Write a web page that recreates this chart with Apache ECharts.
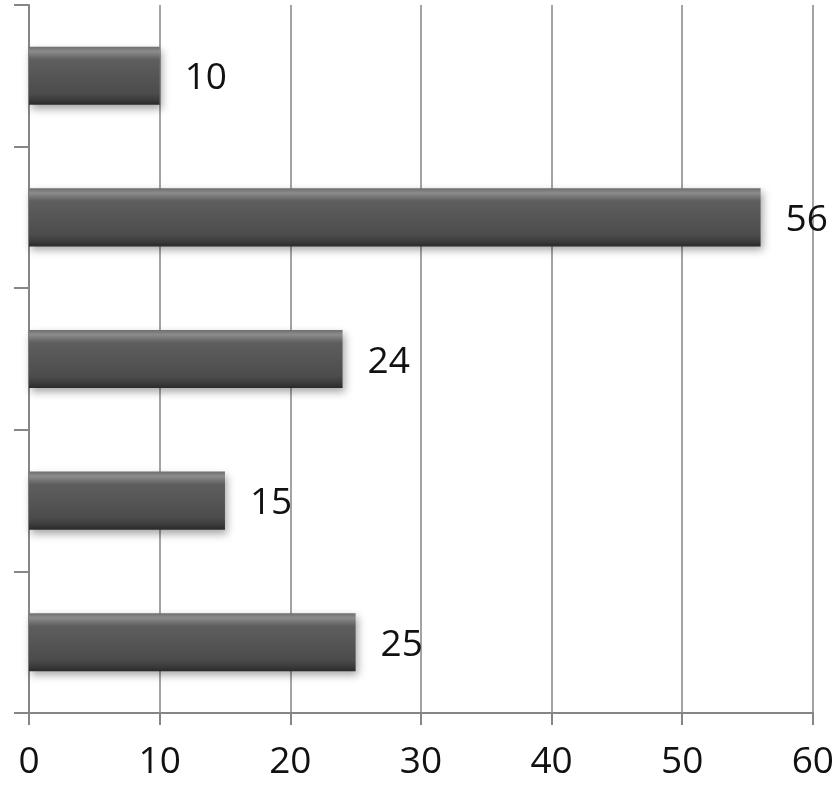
<!DOCTYPE html>
<html><head><meta charset="utf-8">
<script src="https://cdn.jsdelivr.net/npm/echarts@6/dist/echarts.min.js"></script>
<style>html,body{margin:0;padding:0;background:#fff}#c{width:837px;height:801px}</style>
</head><body><div id="c"></div>
<script>
const categories = ['A','B','C','D','E']; // bottom to top
const values = [25, 15, 24, 56, 10];
const xTicks = [0, 60, 10];

const chart = echarts.init(document.getElementById('c'));
chart.setOption({
  animation: false,
  backgroundColor: '#fff',
  grid: { left: 29, right: 22, top: 5, bottom: 88, containLabel: false },
  xAxis: {
    type: 'value', min: xTicks[0], max: xTicks[1], interval: xTicks[2],
    axisLine: { show: true, lineStyle: { color: '#868686', width: 2 } },
    axisTick: { show: true, length: 12, lineStyle: { color: '#868686', width: 2 } },
    splitLine: { show: true, lineStyle: { color: '#868686', width: 1.5 } },
    axisLabel: { fontSize: 37, color: '#111', margin: 31, fontFamily: 'Open Sans' }
  },
  yAxis: {
    type: 'category', data: categories,
    axisLine: { show: true, lineStyle: { color: '#868686', width: 2 } },
    axisTick: { show: true, length: 15, alignWithLabel: false, lineStyle: { color: '#868686', width: 2 } },
    axisLabel: { show: false },
    splitLine: { show: false }
  },
  series: [{
    type: 'bar', data: values, barWidth: '41%',
    itemStyle: {
      color: new echarts.graphic.LinearGradient(0, 0, 0, 1, [
        { offset: 0, color: '#6e6e6e' },
        { offset: 0.08, color: '#8c8c8c' },
        { offset: 0.22, color: '#5e5e5e' },
        { offset: 0.8, color: '#4c4c4c' },
        { offset: 0.92, color: '#3a3a3a' },
        { offset: 1, color: '#2a2a2a' }
      ]),
      shadowColor: 'rgba(0,0,0,0.35)', shadowBlur: 8, shadowOffsetX: 2, shadowOffsetY: 4
    },
    label: { show: true, position: 'right', distance: 25, offset: [0, 3], fontSize: 37, color: '#111', fontFamily: 'Open Sans' }
  }]
});
</script></body></html>
